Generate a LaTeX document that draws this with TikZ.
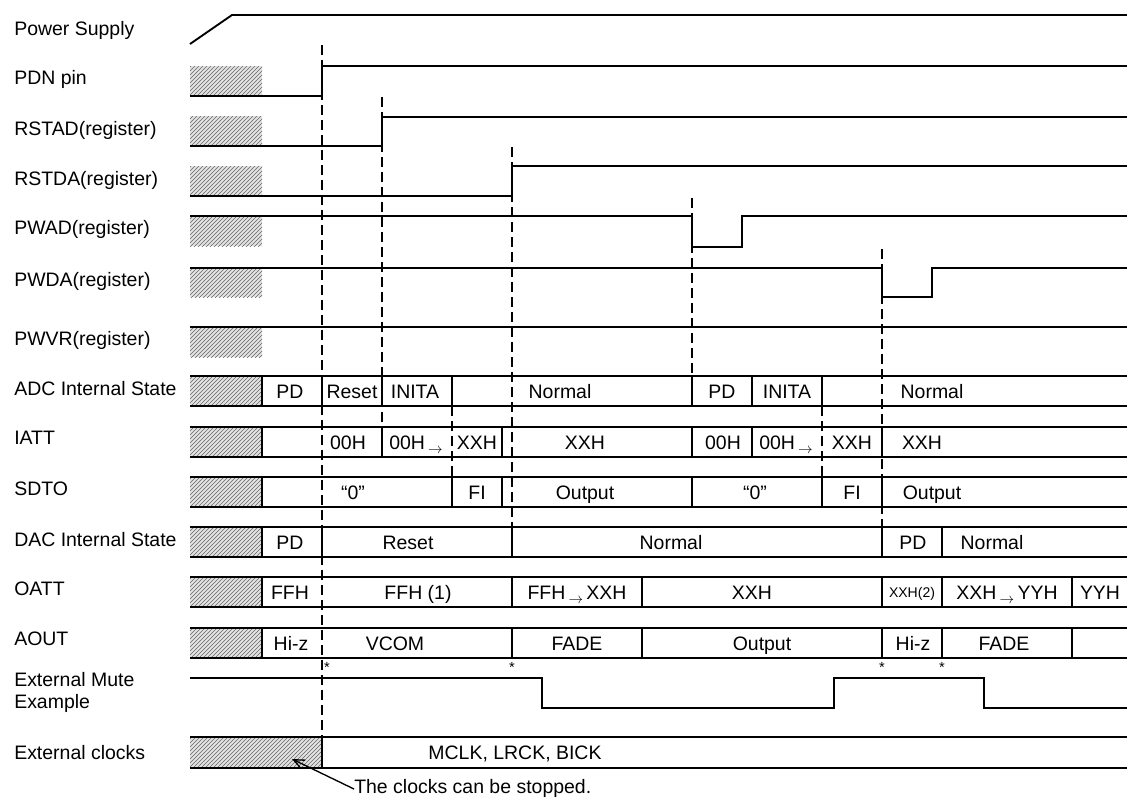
\documentclass[tikz,border=0pt]{standalone}
\usepackage{fontspec}
\setmainfont{Liberation Sans}
\usetikzlibrary{patterns,arrows.meta}
\newcommand{\rarr}{\raisebox{-0.45ex}{\fontsize{11}{11}\selectfont$\rightarrow$}}
\begin{document}
\begin{tikzpicture}[x=0.75pt,y=-0.75pt,
  lbl/.style={anchor=base west,inner sep=0pt,font=\fontsize{14.6}{16.5}\selectfont},
  cell/.style={anchor=base,inner sep=0pt,font=\fontsize{14.6}{16.5}\selectfont},
  smallcell/.style={anchor=base,inner sep=0pt,font=\fontsize{10.5}{12}\selectfont},
  star/.style={inner sep=0pt,font=\fontsize{11}{11}\selectfont},
  sig/.style={line width=1.4pt},
  bus/.style={line width=1.2pt},
  dsh/.style={line width=1.5pt,dash pattern=on 7.5pt off 3.75pt},
  hatchbg/.style={fill=gray!22},
  hatchln/.style={pattern=north east lines,pattern color=black!60}]
\useasboundingbox (0,0) rectangle (1127,797);

% hatched boxes
\foreach \a/\b in {66/96,116/146,166/196,216/246,268/297,328/357,376/406,427/457,477/507,527/557,577/607,628/658}{
  \fill[hatchbg] (190,\a) rectangle (262,\b);
  \fill[hatchln] (190,\a) rectangle (262,\b);
}
\fill[hatchbg] (190,737) rectangle (322,768);
\fill[hatchln] (190,737) rectangle (322,768);

% labels (baseline = visual centre + 7)
\node[lbl] (lps) at (14,35) {Power Supply};
\node[lbl] (lpdn) at (14,84) {PDN pin};
\node[lbl] (lrstad) at (14,135) {RSTAD(register)};
\node[lbl] (lrstda) at (14,185) {RSTDA(register)};
\node[lbl] (lpwad) at (14,234) {PWAD(register)};
\node[lbl] (lpwda) at (14,286) {PWDA(register)};
\node[lbl] (lpwvr) at (14,345) {PWVR(register)};
\node[lbl] (ladc) at (14,395) {ADC Internal State};
\node[lbl] (liatt) at (14,444) {IATT};
\node[lbl] (lsdto) at (14,495) {SDTO};
\node[lbl] (ldac) at (14,546) {DAC Internal State};
\node[lbl] (loatt) at (14,595) {OATT};
\node[lbl] (laout) at (14,645) {AOUT};
\node[lbl] (lmute1) at (14,686) {External Mute};
\node[lbl] (lmute2) at (14,708) {Example};
\node[lbl] (lclk) at (14,759) {External clocks};

% signals
\draw[sig] (190,44) -- (232,15) -- (1127,15);
\draw[sig] (190,96) -- (322,96) -- (322,66) -- (1127,66);
\draw[sig] (190,146) -- (382,146) -- (382,117) -- (1127,117);
\draw[sig] (190,196) -- (512,196) -- (512,166) -- (1127,166);
\draw[sig] (190,216) -- (692,216) -- (692,247) -- (742,247) -- (742,216) -- (1127,216);
\draw[sig] (190,268) -- (882,268) -- (882,297) -- (932,297) -- (932,268) -- (1127,268);
\draw[sig] (190,327) -- (1127,327);

% bus rows
\foreach \t/\b in {376/406,427/457,477/507,527/557,577/607,628/658}{
  \draw[bus] (190,\t) -- (1127,\t);
  \draw[bus] (190,\b) -- (1127,\b);
}
\foreach \x in {262,322,382,452,692,752,822} \draw[bus] (\x,376) -- (\x,406);
\foreach \x in {262,382,502,692,752,882} \draw[bus] (\x,427) -- (\x,457);
\foreach \x in {262,452,502,692,822,882} \draw[bus] (\x,477) -- (\x,507);
\foreach \x in {262,322,512,882,942} \draw[bus] (\x,527) -- (\x,557);
\foreach \x in {262,512,642,882,942,1072} \draw[bus] (\x,577) -- (\x,607);
\foreach \x in {262,512,642,882,942,1072} \draw[bus] (\x,628) -- (\x,658);

% dashed markers
\draw[dsh] (322,45) -- (322,737);
\draw[dsh] (382,97) -- (382,427);
\draw[dsh] (512,147) -- (512,527);
\draw[dsh] (692,198) -- (692,376);
\draw[dsh] (882,249) -- (882,527);
\draw[dsh] (452,406) -- (452,477);
\draw[dsh] (822,406) -- (822,477);

% ADC
\node[cell] (a1) at (290,398) {PD};
\node[cell] (a2) at (352,398) {Reset};
\node[cell] (a3) at (415,398) {INITA};
\node[cell] (a4) at (560,398) {Normal};
\node[cell] (a5) at (722,398) {PD};
\node[cell] (a6) at (787,398) {INITA};
\node[cell] (a7) at (932,398) {Normal};
% IATT
\node[cell] (i1) at (348,449) {00H};
\node[cell,anchor=base west] (i2) at (389,449) {00H\,\rarr};
\node[cell] (i3) at (477,449) {XXH};
\node[cell] (i4) at (585,449) {XXH};
\node[cell] (i5) at (723,449) {00H};
\node[cell,anchor=base west] (i6) at (759,449) {00H\,\rarr};
\node[cell] (i7) at (852,449) {XXH};
\node[cell] (i8) at (922,449) {XXH};
% SDTO
\node[cell] (s1) at (353,499) {“0”};
\node[cell] (s2) at (477,499) {FI};
\node[cell] (s3) at (585,499) {Output};
\node[cell] (s4) at (755,499) {“0”};
\node[cell] (s5) at (852,499) {FI};
\node[cell] (s6) at (932,499) {Output};
% DAC
\node[cell] (d1) at (290,549) {PD};
\node[cell] (d2) at (408,549) {Reset};
\node[cell] (d3) at (671,549) {Normal};
\node[cell] (d4) at (913,549) {PD};
\node[cell] (d5) at (992,549) {Normal};
% OATT
\node[cell] (o1) at (290,599) {FFH};
\node[cell] (o2) at (418,599) {FFH (1)};
\node[cell] (o3) at (577,599) {FFH\,\rarr\,XXH};
\node[cell] (o4) at (752,599) {XXH};
\node[smallcell] (o5) at (912,597) {XXH(2)};
\node[cell] (o6) at (1007,599) {XXH\,\rarr\,YYH};
\node[cell] (o7) at (1100,599) {YYH};
% AOUT
\node[cell] (u1) at (291,650) {Hi-z};
\node[cell] (u2) at (395,650) {VCOM};
\node[cell] (u3) at (577,650) {FADE};
\node[cell] (u4) at (762,650) {Output};
\node[cell] (u5) at (913,650) {Hi-z};
\node[cell] (u6) at (1004,650) {FADE};

% stars
\node[star] (st1) at (327,667) {*};
\node[star] (st2) at (512,667) {*};
\node[star] (st3) at (882,667) {*};
\node[star] (st4) at (942,667) {*};

% external mute
\draw[sig] (190,678) -- (542,678) -- (542,708) -- (834,708) -- (834,678) -- (984,678) -- (984,708) -- (1127,708);

% external clocks
\draw[bus] (190,737) -- (1127,737);
\draw[bus] (190,768) -- (1127,768);
\draw[bus] (322,737) -- (322,768);
\node[cell] (clk) at (515,759) {MCLK, LRCK, BICK};

% note
\node[lbl] (stop) at (354,793) {The clocks can be stopped.};
\coordinate (tip) at (292,759);
\draw[line width=1pt,-{Straight Barb[length=8pt,width=7pt]}] ([yshift=3pt]stop.base west) -- (tip);
\end{tikzpicture}
\end{document}
